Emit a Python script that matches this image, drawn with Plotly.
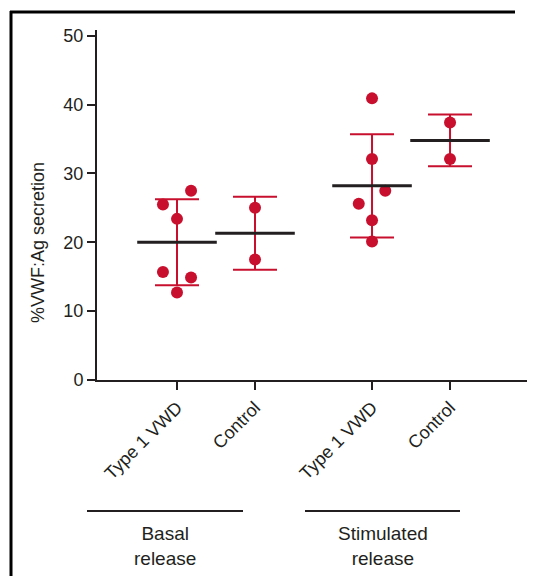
import plotly.graph_objects as go

# ---- data ----
tick_labels = ["Type 1 VWD", "Control", "Type 1 VWD", "Control"]
group_labels = ["Basal<br>release", "Stimulated<br>release"]

basal_vwd = [27.5, 25.5, 23.4, 15.7, 14.9, 12.7]
basal_ctrl = [25.0, 17.5]
stim_vwd = [40.9, 32.1, 27.5, 25.6, 23.2, 20.1]
stim_ctrl = [37.4, 32.1]

group_means = [20.0, 21.3, 28.2, 34.8]
group_sds = [6.25, 5.3, 7.5, 3.75]

y_ticks = [0, 10, 20, 30, 40, 50]

# ---- layout / style constants ----
positions = [0, 1, 2.5, 3.5]
jitter = [
    [0.18, -0.18, 0.0, -0.18, 0.18, 0.0],
    [0.0, 0.0],
    [0.0, 0.0, 0.17, -0.17, 0.0, 0.0],
    [0.0, 0.0],
]
series = [basal_vwd, basal_ctrl, stim_vwd, stim_ctrl]

RED = "#C8102E"
INK = "#231F20"
FONT = "Liberation Sans, Arial, Helvetica, sans-serif"
OFF = 8  # page body margin
W, H = 535 - OFF, 576 - OFF
# plot area in screenshot pixels: x 97..531, y 30..380
L, T = 97 - OFF, 30 - OFF
R = W - (531 - OFF)
B = H - (380 - OFF)
PW, PH = W - L - R, H - T - B
MEAN_HW = 0.51


def px(xs):
    return (xs - OFF - L) / PW


def py(ys):
    return (T + PH - (ys - OFF)) / PH


fig = go.Figure()

# error bars (mean +/- SD)
fig.add_trace(go.Scatter(
    x=positions, y=group_means, mode="markers",
    marker=dict(size=1, color="rgba(0,0,0,0)"),
    error_y=dict(type="data", array=group_sds, visible=True,
                 color=RED, thickness=2, width=22),
    hoverinfo="skip", showlegend=False,
))

# individual points
for pos, vals, jit in zip(positions, series, jitter):
    fig.add_trace(go.Scatter(
        x=[pos + j for j in jit], y=vals, mode="markers",
        marker=dict(size=12, color=RED, line=dict(width=0)),
        showlegend=False,
    ))

# mean lines
mx, my = [], []
for pos, m in zip(positions, group_means):
    mx += [pos - MEAN_HW, pos + MEAN_HW, None]
    my += [m, m, None]
fig.add_trace(go.Scatter(x=mx, y=my, mode="lines",
                         line=dict(color=INK, width=3),
                         hoverinfo="skip", showlegend=False))

shapes = [
    # outer frame (top and left edges visible)
    dict(type="line", xref="paper", yref="paper",
         x0=px(10), x1=px(515), y0=py(12), y1=py(12),
         line=dict(color="black", width=3)),
    dict(type="line", xref="paper", yref="paper",
         x0=px(11), x1=px(11), y0=py(11), y1=py(576),
         line=dict(color="black", width=3)),
    # group underlines
    dict(type="line", xref="paper", yref="paper",
         x0=px(87), x1=px(243), y0=py(511), y1=py(511),
         line=dict(color=INK, width=2)),
    dict(type="line", xref="paper", yref="paper",
         x0=px(305), x1=px(460), y0=py(511), y1=py(511),
         line=dict(color=INK, width=2)),
]

annotations = [
    dict(text=group_labels[0], xref="paper", yref="paper",
         x=px(165), y=py(521), xanchor="center", yanchor="top",
         showarrow=False, font=dict(family=FONT, size=19, color=INK)),
    dict(text=group_labels[1], xref="paper", yref="paper",
         x=px(383), y=py(521), xanchor="center", yanchor="top",
         showarrow=False, font=dict(family=FONT, size=19, color=INK)),
    dict(text="%VWF:Ag secretion", xref="paper", yref="paper",
         x=px(38), y=py(243), xanchor="center", yanchor="middle",
         textangle=-90, showarrow=False,
         font=dict(family=FONT, size=18, color=INK)),
]

fig.update_layout(
    width=W, height=H,
    margin=dict(l=L, r=R, t=T, b=B),
    paper_bgcolor="white", plot_bgcolor="white",
    font=dict(family=FONT, size=18, color=INK),
    shapes=shapes, annotations=annotations,
    xaxis=dict(
        range=[-1.0256, 4.538], tickmode="array", tickvals=positions,
        ticktext=tick_labels, tickangle=-45, showgrid=False, zeroline=False,
        showline=True, linecolor=INK, linewidth=2,
        ticks="outside", ticklen=8, tickwidth=2, tickcolor=INK,
        tickfont=dict(family=FONT, size=18, color=INK),
    ),
    yaxis=dict(
        range=[0, 50.83], tickmode="array", tickvals=y_ticks,
        showgrid=False, zeroline=False,
        showline=True, linecolor=INK, linewidth=2,
        ticks="outside", ticklen=8, tickwidth=2, tickcolor=INK,
        tickfont=dict(family=FONT, size=18, color=INK),
    ),
)

fig.write_html("out.html")
